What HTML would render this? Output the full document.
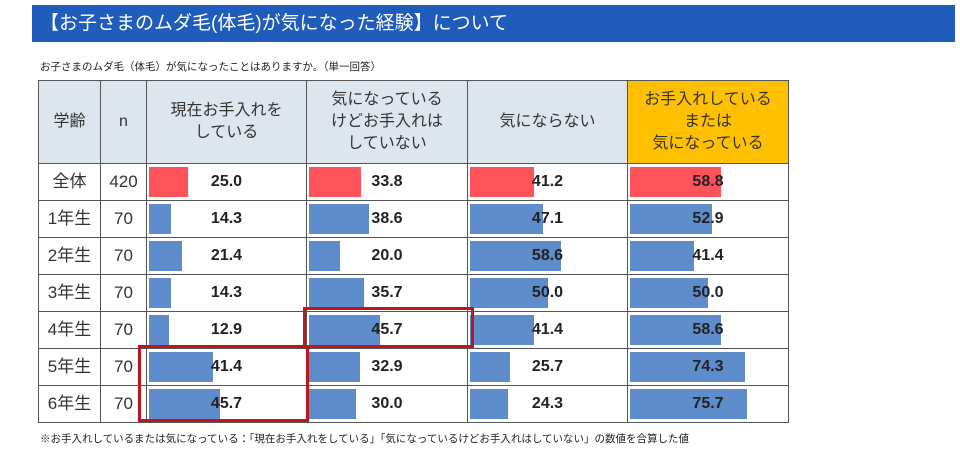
<!DOCTYPE html>
<html><head><meta charset="utf-8">
<style>
body{margin:0;width:960px;height:451px;background:#fff;position:relative;overflow:hidden;font-family:"Liberation Sans","Noto Sans CJK JP",sans-serif;}
#title{position:absolute;left:32px;top:5px;width:923px;height:37px;background:#1f5cbb;color:#fff;font-size:19px;line-height:37px;padding-left:8px;box-sizing:border-box;}
#sub{position:absolute;left:40px;top:59px;font-size:10.5px;color:#222;}
#foot{position:absolute;left:40px;top:431px;font-size:10.5px;color:#222;}
table{position:absolute;left:38px;top:80px;border-collapse:collapse;table-layout:fixed;}
td,th{border:1px solid #555;padding:0;position:relative;font-weight:normal;color:#333;vertical-align:middle;}
th{background:#dde5ef;font-size:16px;line-height:22px;text-align:center;height:82px;}
th.hl{background:#ffc000;}
td{height:36px;font-size:17px;line-height:36px;text-align:center;}
.bar{position:absolute;left:2px;top:3px;bottom:3px;}
.val{position:relative;display:block;line-height:36px;font-weight:bold;font-size:16px;color:#222;}
.box{position:absolute;border:3px solid #c0151b;box-sizing:border-box;}
</style></head><body>
<div id="title">【お子さまのムダ毛(体毛)が気になった経験】について</div>
<div id="sub">お子さまのムダ毛（体毛）が気になったことはありますか。（単一回答）</div>
<table id="tbl">
<colgroup><col style="width:62px"><col style="width:46px"><col style="width:160px"><col style="width:161px"><col style="width:160px"><col style="width:161px"></colgroup>
<tr>
<th>学齢</th>
<th>n</th>
<th>現在お手入れを<br>している</th>
<th>気になっている<br>けどお手入れは<br>していない</th>
<th>気にならない</th>
<th class="hl">お手入れしている<br>または<br>気になっている</th>
</tr>
</table>
<div class="box" style="left:138px;top:345px;width:171px;height:77px"></div>
<div class="box" style="left:303px;top:307px;width:171px;height:41px"></div>
<div id="foot">※お手入れしているまたは気になっている：「現在お手入れをしている」「気になっているけどお手入れはしていない」の数値を合算した値</div>
<script>
const grades=["全体","1年生","2年生","3年生","4年生","5年生","6年生"];
const ns=[420,70,70,70,70,70,70];
const care=[25.0,14.3,21.4,14.3,12.9,41.4,45.7];
const noticedNoCare=[33.8,38.6,20.0,35.7,45.7,32.9,30.0];
const notNoticed=[41.2,47.1,58.6,50.0,41.4,25.7,24.3];
const totalNoticed=[58.8,52.9,41.4,50.0,58.6,74.3,75.7];
const series=[care,noticedNoCare,notNoticed,totalNoticed];
const scale=v=>v*1.55;
const tbl=document.getElementById('tbl');
grades.forEach((g,i)=>{
  const tr=document.createElement('tr');
  
  
  const c1=document.createElement('td');c1.textContent=g;
  
  
  tr.appendChild(c1);
  const c2=document.createElement('td');c2.textContent=ns[i];
  
  
  tr.appendChild(c2);
  series.forEach((s,j)=>{
    const td=document.createElement('td');
    
    
    const b=document.createElement('div');b.className='bar';
    
    
    b.style.width=scale(s[i])+'px';
    b.style.background=i===0?'#ff5359':'#5f8dcb';
    td.appendChild(b);
    const v=document.createElement('span');v.className='val';v.textContent=s[i].toFixed(1);
    
    
    td.appendChild(v);
    tr.appendChild(td);
  });
  tbl.appendChild(tr);
});
</script>
</body></html>
